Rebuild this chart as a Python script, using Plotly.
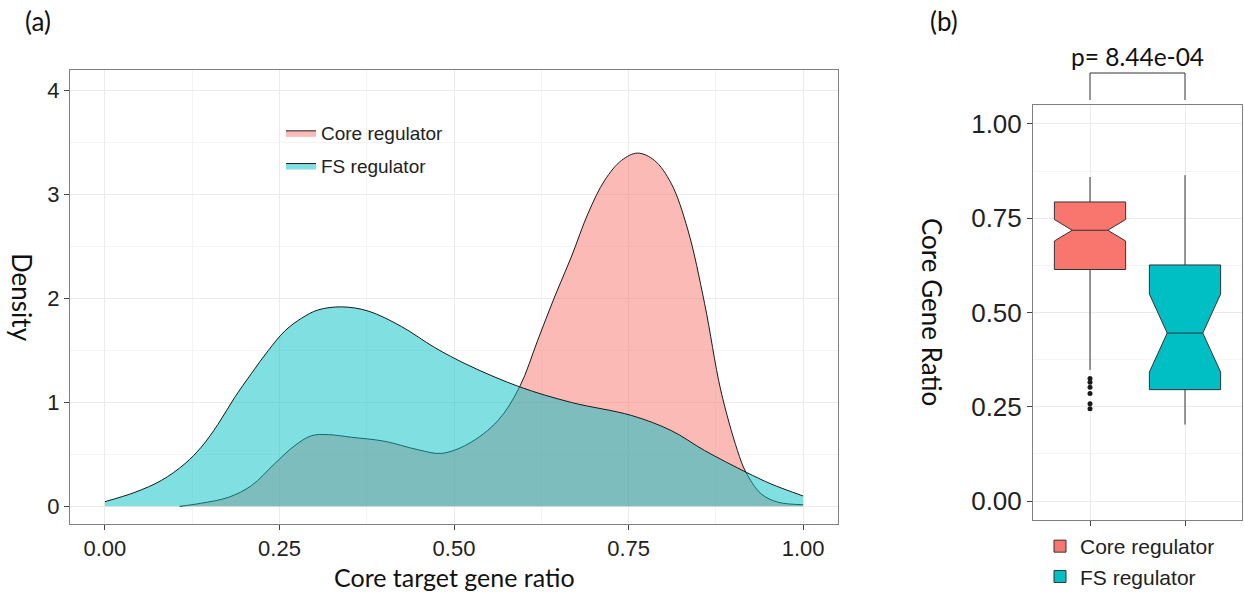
import plotly.graph_objects as go

# ---------------- Panel (a): density curves ----------------
core_x = [0.107, 0.138, 0.177, 0.21, 0.243, 0.272, 0.296, 0.32, 0.353, 0.40, 0.449, 0.482,
          0.52, 0.563, 0.594, 0.62, 0.644, 0.668, 0.692, 0.716, 0.74, 0.763, 0.787, 0.811,
          0.835, 0.859, 0.882, 0.906, 0.918, 0.94, 0.964, 1.0]
core_y = [0.0, 0.03, 0.087, 0.20, 0.41, 0.585, 0.68, 0.69, 0.665, 0.627, 0.544, 0.51,
          0.60, 0.826, 1.15, 1.60, 2.015, 2.40, 2.82, 3.14, 3.33, 3.40, 3.33, 3.11,
          2.66, 1.95, 1.12, 0.537, 0.33, 0.12, 0.04, 0.016]

fs_x = [0.0, 0.043, 0.081, 0.1145, 0.138, 0.162, 0.186, 0.21, 0.234, 0.258, 0.2815, 0.305,
        0.339, 0.377, 0.425, 0.472, 0.52, 0.594, 0.668, 0.754, 0.811, 0.859, 0.918, 0.954, 1.0]
fs_y = [0.045, 0.135, 0.25, 0.41, 0.57, 0.79, 1.05, 1.28, 1.50, 1.69, 1.81, 1.89,
        1.92, 1.88, 1.73, 1.53, 1.36, 1.15, 1.00, 0.875, 0.73, 0.537, 0.33, 0.216, 0.10]

density_x_ticks = [0, 0.25, 0.5, 0.75, 1.0]
density_x_labels = ["0.00", "0.25", "0.50", "0.75", "1.00"]
density_y_ticks = [0, 1, 2, 3, 4]
density_y_labels = ["0", "1", "2", "3", "4"]

# ---------------- Panel (b): notched box plot ----------------
groups = ["Core regulator", "FS regulator"]
q1 = [0.614, 0.2955]
median = [0.718, 0.4455]
q3 = [0.793, 0.626]
lower_fence = [0.348, 0.203]
upper_fence = [0.859, 0.864]
notch_half = [0.0285, 0.1035]
core_outliers = [0.325, 0.315, 0.302, 0.285, 0.258, 0.245]
box_y_ticks = [0, 0.25, 0.5, 0.75, 1.0]
box_y_labels = ["0.00", "0.25", "0.50", "0.75", "1.00"]
p_text = "p= 8.44e-04"

red = "#F8766D"
teal = "#00BFC4"
W, H = 1244, 594

fig = go.Figure()

fig.add_trace(go.Scatter(
    x=core_x, y=core_y, name="Core regulator", mode="lines",
    line=dict(color="#1a1a1a", width=1, shape="spline", smoothing=1.0),
    fill="tozeroy", fillcolor="rgba(248,118,109,0.5)",
    xaxis="x", yaxis="y", legend="legend", legendgroup="a1"))
fig.add_trace(go.Scatter(
    x=fs_x, y=fs_y, name="FS regulator", mode="lines",
    line=dict(color="#1a1a1a", width=1, shape="spline", smoothing=1.0),
    fill="tozeroy", fillcolor="rgba(0,191,196,0.5)",
    xaxis="x", yaxis="y", legend="legend", legendgroup="a2"))

colors = [red, teal]
for i, g in enumerate(groups):
    fig.add_trace(go.Box(
        x=[g], q1=[q1[i]], median=[median[i]], q3=[q3[i]],
        lowerfence=[lower_fence[i]], upperfence=[upper_fence[i]],
        notchspan=[notch_half[i]], notched=True, notchwidth=0.25,
        width=0.75, whiskerwidth=0, boxpoints=False,
        fillcolor=colors[i], line=dict(color="#333333", width=1),
        name=g, xaxis="x2", yaxis="y2", legend="legend2", legendgroup="b%d" % i))

fig.add_trace(go.Scatter(
    x=[groups[0]] * len(core_outliers), y=core_outliers, mode="markers",
    marker=dict(color="#1a1a1a", size=5), showlegend=False,
    xaxis="x2", yaxis="y2"))

grid = "#EBEBEB"
minor_grid = "#F4F4F4"
border = "#7f7f7f"
tickfont_a = dict(family="Liberation Sans, Arial", size=22, color="#222222")
tickfont_b = dict(family="Liberation Sans, Arial", size=26, color="#222222")

fig.update_layout(
    width=W, height=H, margin=dict(l=0, r=0, t=0, b=0, autoexpand=False),
    paper_bgcolor="white", plot_bgcolor="white",
    xaxis=dict(domain=[70 / W, 838 / W], range=[-0.05, 1.05], anchor="y",
               tickvals=density_x_ticks, ticktext=density_x_labels,
               ticks="outside", ticklen=5, tickcolor="#444", tickfont=tickfont_a,
               showgrid=True, gridcolor=grid, gridwidth=1, zeroline=False,
               minor=dict(dtick=0.125, showgrid=True, gridcolor=minor_grid, gridwidth=1),
               showline=True, mirror=True, linecolor=border, linewidth=1),
    yaxis=dict(domain=[1 - 524 / H, 1 - 70 / H], range=[-0.17, 4.2], anchor="x",
               tickvals=density_y_ticks, ticktext=density_y_labels,
               ticks="outside", ticklen=5, tickcolor="#444", tickfont=tickfont_a,
               showgrid=True, gridcolor=grid, gridwidth=1, zeroline=False,
               minor=dict(dtick=0.5, showgrid=True, gridcolor=minor_grid, gridwidth=1),
               showline=True, mirror=True, linecolor=border, linewidth=1),
    xaxis2=dict(domain=[1033 / W, 1242 / W], type="category", categoryorder="array",
                categoryarray=groups, range=[-0.6, 1.6], anchor="y2",
                showticklabels=False, ticks="outside", ticklen=5, tickcolor="#444",
                showgrid=True, gridcolor=grid, zeroline=False,
                showline=True, mirror=True, linecolor=border, linewidth=1),
    yaxis2=dict(domain=[1 - 520 / H, 1 - 105 / H], range=[-0.05, 1.05], anchor="x2",
                tickvals=box_y_ticks, ticktext=box_y_labels,
                ticks="outside", ticklen=5, tickcolor="#444", tickfont=tickfont_b,
                showgrid=True, gridcolor=grid, zeroline=False,
                minor=dict(dtick=0.125, showgrid=True, gridcolor=minor_grid, gridwidth=1),
                showline=True, mirror=True, linecolor=border, linewidth=1),
    legend=dict(x=281 / W, y=1 - 114 / H, xanchor="left", yanchor="top",
                font=dict(family="Liberation Sans, Arial", size=19, color="#222"),
                bgcolor="rgba(255,255,255,0)", itemwidth=30, tracegroupgap=5,
                traceorder="grouped"),
    legend2=dict(x=1040 / W, y=1 - 526 / H, xanchor="left", yanchor="top",
                 font=dict(family="Liberation Sans, Arial", size=21, color="#222"),
                 bgcolor="rgba(255,255,255,0)", itemwidth=30, tracegroupgap=0,
                 traceorder="grouped"),
    showlegend=True,
)

def note(text, x, y, size, angle=0, xref="paper"):
    return dict(text=text, x=x, y=y, xref=xref, yref="paper", xanchor="center",
                yanchor="middle", textangle=angle, showarrow=False,
                font=dict(family="Lato, Open Sans", size=size, color="#111"))

fig.update_layout(annotations=[
    note("(a)", 38 / W, 1 - 21 / H, 26),
    note("(b)", 944 / W, 1 - 21 / H, 26),
    note("Density", 22 / W, 1 - 297 / H, 26, angle=90),
    note("Core target gene ratio", 454 / W, 1 - 577 / H, 25),
    note("Core Gene Ratio", 932 / W, 1 - 312 / H, 26, angle=90),
    note(p_text, 0.5, 1 - 57 / H, 24.5, xref="x2"),
])

# significance bracket
br_bottom = 1 - 100 / H
br_top = 1 - 73 / H
shape_line = dict(color="#333333", width=1)
fig.update_layout(shapes=[
    dict(type="line", xref="x2", yref="paper", x0=0, x1=0, y0=br_bottom, y1=br_top, line=shape_line),
    dict(type="line", xref="x2", yref="paper", x0=1, x1=1, y0=br_bottom, y1=br_top, line=shape_line),
    dict(type="line", xref="x2", yref="paper", x0=0, x1=1, y0=br_top, y1=br_top, line=shape_line),
])

fig.write_html("out.html", config={"displayModeBar": False},
               post_script="document.body.style.margin='0px';")
